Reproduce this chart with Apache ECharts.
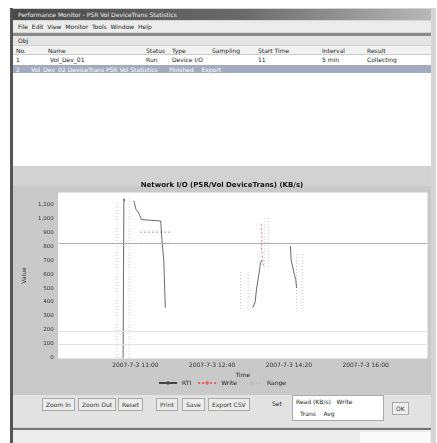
<!DOCTYPE html>
<html>
<head>
<meta charset="utf-8">
<script src="https://cdn.jsdelivr.net/npm/echarts@6/dist/echarts.min.js"></script>
<style>
html,body{margin:0;padding:0;width:437px;height:443px;overflow:hidden;background:#fff;font-family:"DejaVu Sans",sans-serif;}
.abs{position:absolute;}
.txt{font-size:6px;color:#222;white-space:nowrap;}
.btn{position:absolute;top:398px;height:11px;border:1px solid #aaa;background:#ececec;font-size:6px;line-height:11px;padding:0 3px;color:#333;white-space:nowrap;}
</style>
</head>
<body>
<!-- window frame -->
<div class="abs" style="left:10px;top:8px;width:423px;height:435px;background:#d4d4d4;border-left:3px solid #555;"></div>
<div class="abs" style="left:13px;top:9px;width:418px;height:11px;background:linear-gradient(90deg,#4a4a4a,#6a6a6a 55%,#b8b8b8);"></div>
<div class="abs txt" style="left:18px;top:11px;color:#eee;font-size:6px;">Performance Monitor - PSR Vol DeviceTrans Statistics</div>
<div class="abs" style="left:13px;top:21px;width:418px;height:11px;background:#ececec;"></div>
<div class="abs txt" style="left:18px;top:23px;">File&nbsp;&nbsp;Edit&nbsp;&nbsp;View&nbsp;&nbsp;Monitor&nbsp;&nbsp;Tools&nbsp;&nbsp;Window&nbsp;&nbsp;Help</div>
<div class="abs" style="left:13px;top:33px;width:418px;height:3px;background:#8a8a8a;"></div>
<div class="abs" style="left:13px;top:36px;width:418px;height:9px;background:#e4e4e4;"></div>
<div class="abs txt" style="left:18px;top:37px;">Obj</div>
<!-- table -->
<div class="abs" style="left:13px;top:46px;width:418px;height:120px;background:#fff;"></div>
<div class="abs" style="left:13px;top:46px;width:418px;height:8px;background:#f2f2f2;border-bottom:1px solid #ccc;"></div>
<div class="abs txt" style="left:16px;top:47px;">No.</div>
<div class="abs txt" style="left:48px;top:47px;">Name</div>
<div class="abs txt" style="left:146px;top:47px;">Status</div>
<div class="abs txt" style="left:172px;top:47px;">Type</div>
<div class="abs txt" style="left:212px;top:47px;">Sampling</div>
<div class="abs txt" style="left:258px;top:47px;">Start Time</div>
<div class="abs txt" style="left:322px;top:47px;">Interval</div>
<div class="abs txt" style="left:367px;top:47px;">Result</div>
<div class="abs txt" style="left:16px;top:56px;">1</div>
<div class="abs txt" style="left:50px;top:56px;">Vol_Dev_01</div>
<div class="abs txt" style="left:146px;top:56px;">Run</div>
<div class="abs txt" style="left:172px;top:56px;">Device I/O</div>
<div class="abs txt" style="left:258px;top:56px;">11</div>
<div class="abs txt" style="left:322px;top:56px;">5 min</div>
<div class="abs txt" style="left:367px;top:56px;">Collecting</div>
<div class="abs" style="left:13px;top:65px;width:418px;height:8px;background:#a3abc0;"></div>
<div class="abs txt" style="left:16px;top:66px;color:#fff;">2&nbsp;&nbsp;&nbsp;&nbsp;&nbsp;&nbsp;Vol_Dev_02 DeviceTrans PSR Vol Statistics&nbsp;&nbsp;&nbsp;&nbsp;&nbsp;&nbsp;Finished&nbsp;&nbsp;&nbsp;&nbsp;Export</div>
<!-- chart panel -->
<div class="abs" style="left:13px;top:166px;width:418px;height:229px;background:#c9c9c9;"></div>
<div class="abs" style="left:13px;top:166px;width:418px;height:20px;background:#d2d2d2;"></div>
<div id="chart" class="abs" style="left:13px;top:166px;width:418px;height:229px;"></div>
<!-- bottom toolbar -->
<div class="abs" style="left:13px;top:395px;width:418px;height:32px;background:#e2e2e2;"></div>
<div class="btn" style="left:42px;">Zoom In</div>
<div class="btn" style="left:78px;">Zoom Out</div>
<div class="btn" style="left:118px;">Reset</div>
<div class="btn" style="left:156px;">Print</div>
<div class="btn" style="left:182px;">Save</div>
<div class="btn" style="left:208px;">Export CSV</div>
<div class="abs txt" style="left:272px;top:400px;">Set</div>
<div class="abs" style="left:292px;top:395px;width:90px;height:24px;background:#fff;border:1px solid #aaa;"></div>
<div class="abs txt" style="left:296px;top:398px;">Read (KB/s)&nbsp;&nbsp;&nbsp;Write</div>
<div class="abs txt" style="left:300px;top:410px;">Trans&nbsp;&nbsp;&nbsp;&nbsp;Avg</div>
<div class="btn" style="left:392px;top:402px;">OK</div>
<div class="abs" style="left:13px;top:428px;width:418px;height:2px;background:#777;"></div>
<div class="abs" style="left:13px;top:430px;width:418px;height:13px;background:#ececec;"></div>
<div class="abs" style="left:360px;top:432px;width:70px;height:11px;background:#fafafa;"></div>
<script>
// x values are minutes from the start of the monitoring window
const xTickValues = [100, 200, 300, 400];
const xTickLabels = ['2007-7-3 11:00', '2007-7-3 12:40', '2007-7-3 14:20', '2007-7-3 16:00'];
const yTickLabels = ['0','100','200','300','400','500','600','700','800','900','1,000','1,100'];

const readX = [84, 85, 86, null, 98, 101, 104, 108, 120, 133, 134, 135, 137, 139, null, 253, 256, 258, 261, 263, 265, null, 302, 303, 305, 307, 309, 310];
const readY = [0, 1140, 1120, null, 1125, 1060, 1040, 990, 985, 980, 900, 820, 700, 360, null, 360, 400, 500, 600, 680, 700, null, 800, 700, 650, 600, 560, 500];

const writeX = [106, 148, null, 106, 148, null, 264, 265, 264, 266, 267];
const writeY = [900, 900, null, 820, 820, null, 960, 850, 800, 700, 650];

const envX = [76, 76, null, 92, 92, null, 237, 237, null, 247, 247, null, 268, 268, null, 273, 273, null, 310, 310, null, 318, 318];
const envY = [0, 1100, null, 0, 1150, null, 350, 620, null, 350, 620, null, 650, 1000, null, 650, 1000, null, 350, 750, null, 350, 750];

function pairs(xs, ys) {
  return xs.map((x, i) => (x === null ? null : [x, ys[i]]));
}

const chart = echarts.init(document.getElementById('chart'));
const font = 'DejaVu Sans';
chart.setOption({
  animation: false,
  backgroundColor: 'transparent',
  title: {
    text: 'Network I/O (PSR/Vol DeviceTrans) (KB/s)',
    left: 'center', top: 11,
    textStyle: { fontSize: 7, fontWeight: 'bold', color: '#111', fontFamily: font }
  },
  legend: {
    bottom: 4, left: 'center', itemWidth: 18, itemHeight: 2, itemGap: 6,
    textStyle: { fontSize: 6, color: '#222', fontFamily: font },
    data: ['RTI', 'Write', 'Range']
  },
  grid: { left: 35, right: 4, top: 27, bottom: 37, backgroundColor: '#fff', show: true, borderColor: '#fff' },
  xAxis: {
    type: 'value', min: 0, max: 480, interval: 100,
    name: 'Time', nameLocation: 'middle', nameGap: 14,
    nameTextStyle: { fontSize: 6, color: '#222', fontFamily: font },
    axisLine: { show: false }, axisTick: { show: false },
    splitLine: { show: false },
    axisLabel: {
      fontSize: 6, color: '#333', fontFamily: font, margin: 4,
      customValues: xTickValues,
      formatter: v => { const i = xTickValues.indexOf(v); return i >= 0 ? xTickLabels[i] : ''; }
    }
  },
  yAxis: {
    type: 'value', min: 0, max: 1180, interval: 100,
    name: 'Value', nameLocation: 'middle', nameGap: 24, nameRotate: 90,
    nameTextStyle: { fontSize: 6, color: '#333', fontFamily: font },
    axisLine: { show: false }, axisTick: { show: false },
    splitLine: { show: false },
    axisLabel: {
      fontSize: 5.5, color: '#333', fontFamily: font, margin: 5, showMaxLabel: false,
      formatter: v => yTickLabels[Math.round(v / 100)] || ''
    }
  },
  series: [
    {
      name: 'Range', type: 'line', data: pairs(envX, envY), connectNulls: false,
      showSymbol: false, lineStyle: { color: '#bbb', width: 0.8, type: [1, 2] },
      itemStyle: { color: '#bbb' }
    },
    {
      name: 'Write', type: 'line', data: pairs(writeX, writeY), connectNulls: false,
      showSymbol: false, lineStyle: { color: '#e06060', width: 0.8, type: [2, 2] },
      itemStyle: { color: '#e06060' }
    },
    {
      name: 'RTI', type: 'line', data: pairs(readX, readY), connectNulls: false,
      showSymbol: false, lineStyle: { color: '#444', width: 0.8 },
      itemStyle: { color: '#444' },
      markLine: {
        silent: true, symbol: 'none', label: { show: false },
        lineStyle: { width: 1, type: 'solid' },
        data: [
          { yAxis: 820, lineStyle: { color: '#b0b0b0' } },
          { yAxis: 190, lineStyle: { color: '#e2e2e2' } },
          { yAxis: 100, lineStyle: { color: '#e2e2e2' } }
        ]
      }
    }
  ]
});
</script>
</body>
</html>
